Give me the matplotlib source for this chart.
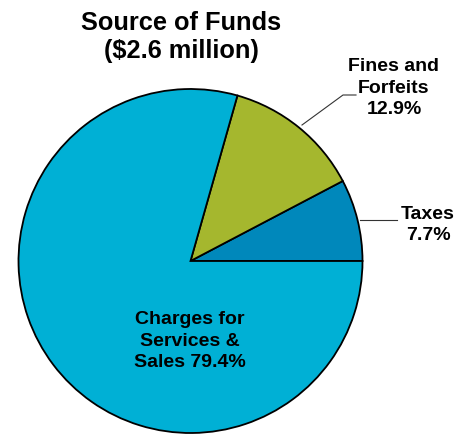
import matplotlib.pyplot as plt

# ---------------- DATA ----------------
categories = ["Taxes", "Fines and\nForfeits", "Charges for\nServices &\nSales"]
shares = [7.7, 12.9, 79.4]
colors = ["#0088BB", "#A5B72E", "#00B0D5"]
title = "Source of Funds\n($2.6 million)"

plt.rcParams['font.family'] = ['Liberation Sans', 'DejaVu Sans']

W, H = 464, 436
fig = plt.figure(figsize=(W / 100, H / 100), dpi=100)
ax = fig.add_axes([0, 0, 1, 1])


def py(y):
    # pixel row from top -> axis y
    return H - y


cx, cy, r = 190.5, 261, 172

ax.pie(shares, colors=colors, startangle=0, counterclock=True,
       center=(cx, py(cy)), radius=r, frame=True,
       wedgeprops=dict(edgecolor="black", linewidth=1.3))
ax.set_xlim(0, W)
ax.set_ylim(0, H)
ax.set_aspect('equal')
ax.axis('off')

# ---------------- TITLE ----------------
ax.text(181, py(37), title, ha="center", va="center", fontsize=18.3,
        fontweight="bold", linespacing=1.18)

# ---------------- LABELS ----------------
label_kw = dict(ha="center", va="center", fontsize=14, fontweight="bold",
                linespacing=1.38)

ax.text(394, py(88), f"{categories[1]}\n{shares[1]}%", **label_kw)
ax.plot([302, 343, 356], [py(125), py(95), py(95)], color="#333333", lw=0.8)

ax.text(428, py(225), f"{categories[0]}\n{shares[0]}%", **label_kw)
ax.plot([360, 397], [py(220), py(220)], color="#333333", lw=0.8)

ax.text(190, py(341), "Charges for\nServices &\nSales %.1f%%" % shares[2], **label_kw)

plt.savefig("out.png", dpi=100)
plt.close()
